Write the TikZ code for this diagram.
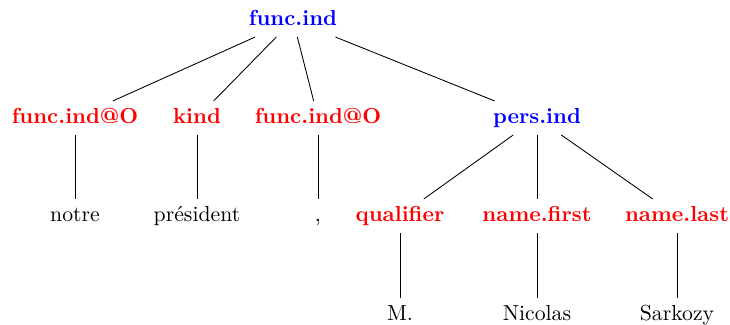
\documentclass[tikz,border=0pt]{standalone}
\usepackage{xcolor}
\usepackage{tikz}
\usetikzlibrary{positioning}
\definecolor{catblue}{RGB}{0,0,255}
\definecolor{catred}{RGB}{255,0,0}

\begin{document}
\begin{tikzpicture}[x=0.46pt,y=-0.46pt,every node/.style={font=\normalsize,text height=1.6ex,text depth=.4ex},
  root/.style={text=catblue,font=\bfseries},
  cat/.style={text=catred,font=\bfseries},
  word/.style={}]
\useasboundingbox (0,0) rectangle (730,325);
\node[root] (fi) at (293,20) {func.ind};
\node[cat] (fo1) at (75,118) {func.ind@O};
\node[cat] (kind) at (197,118) {kind};
\node[cat] (fo2) at (318,118) {func.ind@O};
\node[root] (pi) at (537,118) {pers.ind};
\node[word] (w1) at (75,216) {notre};
\node[word] (w2) at (197,216) {pr\'esident};
\node[word] (w3) at (318,216) {,};
\node[cat] (qual) at (400,216) {qualifier};
\node[cat] (nf) at (537,216) {name.first};
\node[cat] (nl) at (677,216) {name.last};
\node[word] (w4) at (400,315) {M.};
\node[word] (w5) at (537,315) {Nicolas};
\node[word] (w6) at (677,315) {Sarkozy};
\draw (fi) -- (fo1);
\draw (fi) -- (kind);
\draw (fi) -- (fo2);
\draw (fi) -- (pi);
\draw (fo1) -- (w1);
\draw (kind) -- (w2);
\draw (fo2) -- (w3);
\draw (pi) -- (qual);
\draw (pi) -- (nf);
\draw (pi) -- (nl);
\draw (qual) -- (w4);
\draw (nf) -- (w5);
\draw (nl) -- (w6);
\end{tikzpicture}
\end{document}
